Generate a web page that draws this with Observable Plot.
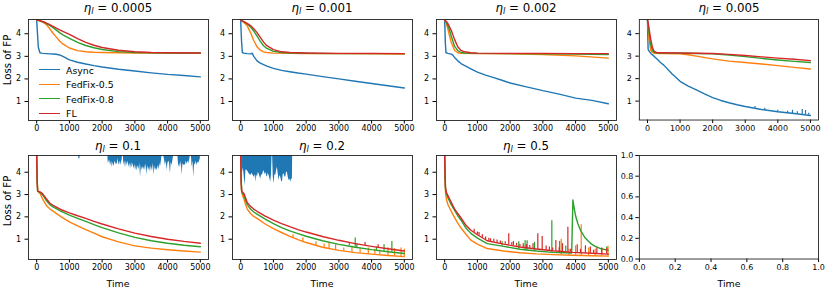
<!DOCTYPE html>
<html><head><meta charset="utf-8">
<script src="https://cdn.jsdelivr.net/npm/d3@7"></script>
<script src="https://cdn.jsdelivr.net/npm/@observablehq/plot@0.6"></script>
<style>
body{margin:0;background:#fff;font-family:"DejaVu Sans",sans-serif;}
#root{position:relative;width:830px;height:291px;overflow:hidden;background:#fff;}
.panel{position:absolute;}
.panel svg{overflow:visible;}
.title{position:absolute;width:180px;text-align:center;font-size:11.8px;line-height:13px;white-space:nowrap;color:#000;}
.title sub{font-size:0.7em;vertical-align:-0.3em;line-height:0;}
.xlab{position:absolute;width:180px;text-align:center;font-size:9.4px;line-height:11px;color:#000;}
.ylab{position:absolute;font-size:10.2px;line-height:12px;white-space:nowrap;transform:translate(-50%,-50%) rotate(-90deg);color:#000;}
.leg{position:absolute;font-size:9.4px;line-height:11px;color:#000;white-space:nowrap;}
.sw{position:absolute;height:0;border-top:1.6px solid;}
</style></head>
<body><div id="root"></div>
<script>
// ---------- data ----------
const seriesNames = ["Async", "FedFix-0.5", "FedFix-0.8", "FL"];
const colors = ["#1f77b4", "#ff7f0e", "#2ca02c", "#d62728"];
const etas = ["0.0005", "0.001", "0.002", "0.005", "0.1", "0.2", "0.5"];
const timeTicks = [0, 1000, 2000, 3000, 4000, 5000];
const lossTicks = [1, 2, 3, 4];
const unitTicks = [0, 0.2, 0.4, 0.6, 0.8, 1.0];

// eta = 0.0005
const async1 = [[0,4.6],[25,4.0],[50,3.4],[100,3.16],[150,3.14],[200,3.13],[300,3.12],[400,3.11],[500,3.1],[600,3.09],[700,3.06],[800,3.0],[1000,2.84],[1250,2.74],[1500,2.66],[1750,2.59],[2000,2.53],[2500,2.43],[3000,2.35],[3500,2.27],[4000,2.2],[4500,2.15],[5000,2.09]];
const orange1 = [[0,4.6],[100,4.57],[200,4.5],[300,4.4],[400,4.22],[500,4.02],[600,3.85],[700,3.68],[800,3.55],[1000,3.37],[1250,3.25],[1500,3.2],[1750,3.18],[2000,3.17],[2500,3.16],[3000,3.15],[4000,3.15],[5000,3.14]];
const green1 = [[0,4.6],[100,4.57],[200,4.52],[300,4.45],[400,4.37],[500,4.27],[600,4.16],[700,4.05],[800,3.95],[1000,3.8],[1250,3.62],[1500,3.48],[1750,3.38],[2000,3.3],[2500,3.21],[3000,3.17],[3500,3.16],[4000,3.15],[5000,3.15]];
const red1 = [[0,4.6],[100,4.58],[200,4.53],[300,4.47],[400,4.4],[500,4.33],[600,4.25],[700,4.17],[800,4.1],[1000,3.97],[1250,3.78],[1500,3.62],[1750,3.49],[2000,3.39],[2500,3.27],[3000,3.2],[3500,3.17],[4000,3.16],[5000,3.15]];

// eta = 0.001
const async2 = [[0,4.6],[25,3.7],[50,3.17],[100,3.14],[200,3.12],[300,3.11],[350,3.14],[400,3.0],[500,2.8],[600,2.7],[800,2.57],[1000,2.47],[1250,2.38],[1500,2.32],[1750,2.26],[2000,2.21],[2500,2.1],[3000,2.0],[3500,1.9],[4000,1.8],[4500,1.7],[5000,1.6]];
const orange2 = [[0,4.6],[100,4.5],[200,4.35],[300,4.05],[400,3.7],[500,3.42],[600,3.27],[700,3.2],[800,3.17],[1000,3.14],[1500,3.13],[2000,3.12],[3000,3.12],[4000,3.11],[5000,3.1]];
const green2 = [[0,4.6],[100,4.52],[200,4.43],[300,4.3],[400,4.12],[500,3.9],[600,3.66],[700,3.47],[800,3.35],[1000,3.22],[1250,3.17],[1500,3.15],[2000,3.13],[3000,3.12],[5000,3.12]];
const red2 = [[0,4.6],[100,4.54],[200,4.46],[300,4.36],[400,4.22],[500,4.05],[600,3.84],[700,3.63],[800,3.47],[1000,3.3],[1250,3.2],[1500,3.17],[2000,3.15],[3000,3.13],[4000,3.13],[5000,3.12]];

// eta = 0.002
const async3 = [[0,4.6],[20,3.6],[40,3.16],[100,3.13],[200,3.1],[250,3.05],[300,2.95],[400,2.8],[500,2.68],[600,2.6],[800,2.45],[1000,2.3],[1250,2.17],[1500,2.06],[1750,1.94],[2000,1.82],[2500,1.65],[3000,1.48],[3500,1.33],[4000,1.15],[4500,1.05],[5000,0.9]];
const orange3 = [[0,4.6],[50,4.45],[100,4.2],[150,3.9],[200,3.62],[300,3.27],[400,3.16],[500,3.13],[1000,3.12],[2000,3.11],[3000,3.08],[4000,3.02],[5000,2.92]];
const green3 = [[0,4.6],[50,4.5],[100,4.35],[150,4.15],[200,3.9],[300,3.45],[400,3.25],[500,3.17],[600,3.15],[1000,3.13],[2000,3.12],[3000,3.11],[4000,3.1],[5000,3.08]];
const red3 = [[0,4.6],[50,4.55],[100,4.45],[150,4.3],[200,4.15],[300,3.75],[400,3.42],[500,3.26],[600,3.2],[800,3.16],[1000,3.14],[2000,3.13],[3000,3.13],[4000,3.12],[5000,3.12]];

// eta = 0.005
const async4 = [[0,4.6],[10,3.8],[20,3.3],[50,3.22],[100,3.12],[200,3.0],[300,2.86],[400,2.72],[500,2.6],[750,2.22],[1000,1.88],[1250,1.67],[1500,1.5],[1750,1.32],[2000,1.16],[2250,1.03],[2500,0.93],[2750,0.84],[3000,0.76],[3500,0.63],[4000,0.53],[4500,0.45],[5000,0.36]];
const async4Spikes = [[3300,0.68,0.76],[3600,0.6,0.68],[4000,0.52,0.6],[4300,0.47,0.55],[4450,0.45,0.6],[4600,0.43,0.53],[4750,0.41,0.63],[4850,0.39,0.58],[4950,0.37,0.46]];
const orange4 = [[0,4.6],[25,4.2],[50,3.7],[100,3.25],[150,3.16],[200,3.13],[500,3.12],[1000,3.1],[1250,3.06],[1500,3.0],[2000,2.88],[2500,2.78],[3000,2.72],[3500,2.65],[4000,2.58],[4500,2.5],[5000,2.43]];
const green4 = [[0,4.6],[25,4.35],[50,4.0],[100,3.5],[150,3.25],[200,3.17],[300,3.14],[1000,3.13],[1500,3.12],[2000,3.1],[2500,3.05],[3000,2.98],[3500,2.9],[4000,2.83],[4500,2.77],[5000,2.72]];
const red4 = [[0,4.6],[25,4.45],[50,4.2],[100,3.75],[150,3.4],[200,3.22],[300,3.15],[1000,3.14],[1500,3.13],[2000,3.12],[2500,3.08],[3000,3.03],[3500,2.97],[4000,2.91],[4500,2.86],[5000,2.8]];

// eta = 0.1  (Async diverges: only its lower noise edge is visible)
const asyncBand5 = [[2170,5],[2186,4.4],[2230,4.55],[2257,4.3],[2290,4.5],[2308,4.22],[2340,4.45],[2359,4.25],[2400,4.5],[2430,4.35],[2461,4.38],[2490,4.6],[2512,4.3],[2540,4.5],[2562,4.3],[2610,4.55],[2640,5],[2664,4.3],[2690,4.5],[2715,4.2],[2740,4.5],[2766,4.3],[2800,4.5],[2817,4.22],[2850,4.4],[2867,4.15],[2900,4.45],[2918,4.2],[2950,4.4],[2969,4.15],[3000,4.35],[3020,4.08],[3050,4.3],[3071,4.05],[3100,4.3],[3122,4.1],[3150,4.4],[3172,3.78],[3200,4.3],[3223,4.08],[3250,4.25],[3274,4.1],[3300,4.3],[3325,4.05],[3350,4.4],[3375,3.85],[3400,4.3],[3426,4.08],[3450,4.25],[3477,4.0],[3500,4.3],[3528,4.05],[3550,4.4],[3578,3.85],[3600,4.3],[3629,4.08],[3660,4.2],[3680,4.05],[3710,4.3],[3731,4.1],[3760,4.4],[3782,4.22],[3810,4.5],[3850,5],[3900,4.6],[3934,4.3],[3960,4.5],[3985,4.08],[4010,4.4],[4036,4.5],[4060,4.4],[4087,3.93],[4110,4.45],[4138,4.3],[4170,4.6],[4200,5],[4300,5],[4341,4.22],[4370,4.4],[4392,4.2],[4420,4.5],[4443,3.85],[4470,4.4],[4493,4.3],[4520,4.35],[4544,4.3],[4570,4.5],[4595,4.35],[4620,4.5],[4646,4.38],[4680,4.6],[4720,5],[4748,4.22],[4775,4.5],[4799,3.78],[4825,4.4],[4849,4.3],[4875,4.5],[4900,4.3],[4925,4.45],[4951,4.4],[4980,4.52],[5000,4.6]];
const async5Spikes = [[1290,4.6,5]];
const orange5 = [[0,4.8],[15,3.6],[30,3.15],[100,3.05],[200,2.75],[300,2.5],[400,2.36],[500,2.26],[750,2.0],[1000,1.78],[1250,1.6],[1500,1.43],[1750,1.27],[2000,1.11],[2500,0.88],[3000,0.7],[3500,0.6],[4000,0.53],[4500,0.47],[5000,0.42]];
const green5 = [[0,4.8],[15,3.6],[30,3.15],[100,3.1],[200,2.95],[300,2.72],[400,2.55],[500,2.45],[750,2.25],[1000,2.08],[1250,1.93],[1500,1.8],[1750,1.65],[2000,1.52],[2500,1.28],[3000,1.08],[3500,0.93],[4000,0.82],[4500,0.73],[5000,0.66]];
const red5 = [[0,4.8],[15,3.6],[30,3.15],[100,3.12],[150,3.08],[200,3.0],[300,2.8],[400,2.62],[500,2.52],[750,2.32],[1000,2.18],[1250,2.05],[1500,1.93],[1750,1.8],[2000,1.68],[2500,1.46],[3000,1.27],[3500,1.12],[4000,1.0],[4500,0.9],[5000,0.82]];

// eta = 0.2
const asyncBand6 = [[0,5],[20,4.3],[51,3.93],[80,4.2],[102,3.9],[133,3.4],[160,4.1],[204,4.08],[250,3.95],[306,3.85],[350,3.95],[408,3.78],[440,3.9],[459,3.55],[485,3.9],[510,3.78],[540,4.0],[561,3.93],[590,3.8],[612,3.7],[640,3.9],[663,3.85],[690,4.0],[714,4.08],[740,3.9],[765,4.0],[790,3.85],[816,3.78],[840,3.95],[867,3.85],[895,3.7],[918,3.55],[940,3.9],[960,4.8],[975,4.8],[995,3.8],[1020,3.48],[1045,3.9],[1071,3.85],[1100,4.1],[1122,4.22],[1150,3.9],[1173,3.63],[1200,3.85],[1224,3.78],[1250,3.6],[1275,3.55],[1300,3.9],[1326,3.93],[1350,3.8],[1377,3.78],[1400,4.0],[1428,4.0],[1455,3.75],[1479,3.63],[1505,3.7],[1530,3.55],[1555,3.7],[1581,3.7],[1590,5]];
const orange6 = [[0,4.8],[15,3.6],[30,3.1],[60,2.95],[100,2.8],[150,2.55],[200,2.35],[300,2.15],[400,2.02],[500,1.93],[750,1.68],[1000,1.47],[1250,1.3],[1500,1.13],[1750,0.98],[2000,0.85],[2500,0.64],[3000,0.5],[3500,0.4],[4000,0.33],[4500,0.27],[5000,0.22]];
const orange6Spikes = [[1600,1.07,1.2],[1900,0.9,1.05],[2300,0.72,0.88],[2550,0.62,0.78],[2700,0.57,0.85],[2900,0.52,0.75],[3150,0.47,0.6],[3400,0.42,0.68],[3650,0.38,0.55],[3900,0.34,0.6],[4100,0.32,0.55],[4250,0.3,0.5],[4500,0.27,0.62],[4700,0.25,0.58],[4900,0.23,0.6],[5000,0.22,0.55]];
const green6 = [[0,4.8],[15,3.6],[30,3.15],[60,3.05],[100,2.95],[150,2.75],[200,2.55],[300,2.35],[400,2.22],[500,2.12],[750,1.9],[1000,1.7],[1250,1.52],[1500,1.37],[1750,1.25],[2000,1.13],[2500,0.93],[3000,0.77],[3500,0.64],[4000,0.53],[4500,0.44],[5000,0.36]];
const green6Spikes = [[3320,0.7,0.85],[3500,0.64,1.05],[3550,0.62,0.8],[4150,0.5,0.65],[4380,0.46,0.75],[4620,0.42,0.9]];
const red6 = [[0,4.8],[15,3.6],[30,3.15],[60,3.1],[100,3.05],[150,2.85],[200,2.65],[300,2.47],[400,2.35],[500,2.25],[750,2.03],[1000,1.85],[1250,1.7],[1500,1.56],[1750,1.43],[2000,1.32],[2500,1.12],[3000,0.95],[3500,0.8],[4000,0.68],[4500,0.57],[5000,0.47]];
const red6Spikes = [[3800,0.72,0.85],[4200,0.63,0.75]];

// eta = 0.5
const orange7 = [[0,4.8],[10,3.7],[25,3.1],[50,2.8],[100,2.55],[150,2.4],[200,2.25],[300,1.98],[400,1.72],[500,1.5],[650,1.22],[800,0.96],[1000,0.78],[1300,0.58],[1800,0.47],[2300,0.39],[2800,0.34],[3300,0.31],[3900,0.28],[4500,0.26],[5000,0.24]];
const orange7Spikes = [[3560,0.3,1.0],[3800,0.29,0.55],[4000,0.28,0.7],[4172,0.27,1.65],[4400,0.26,0.6],[4600,0.25,0.55],[4800,0.25,0.5],[4990,0.24,0.68]];
const green7 = [[0,4.8],[10,3.9],[25,3.3],[50,3.05],[100,2.85],[150,2.7],[200,2.55],[300,2.3],[400,2.05],[500,1.85],[650,1.5],[800,1.26],[1000,1.05],[1300,0.8],[1800,0.68],[2300,0.55],[2800,0.47],[3300,0.41],[3880,0.38],[3918,2.76],[3950,2.45],[4000,2.05],[4070,1.69],[4150,1.4],[4275,1.09],[4400,0.9],[4478,0.79],[4600,0.68],[4784,0.57],[5000,0.5]];
const green7Spikes = [[1754,0.7,0.89],[2264,0.56,0.89],[2458,0.52,0.93],[2519,0.51,0.93],[2745,0.48,0.86],[3274,0.41,1.83],[3510,0.4,0.9],[3700,0.39,0.7],[4950,0.5,0.65]];
const red7 = [[0,4.8],[10,4.0],[25,3.3],[50,3.1],[100,2.95],[150,2.8],[200,2.65],[300,2.36],[400,2.15],[500,1.95],[650,1.62],[800,1.4],[1000,1.2],[1300,0.93],[1800,0.78],[2300,0.65],[2800,0.56],[3300,0.48],[3900,0.41],[4500,0.37],[5000,0.33]];
const red7Spikes = [[900,1.3,1.45],[1000,1.2,1.32],[1050,1.15,1.3],[1150,1.05,1.2],[1250,0.97,1.1],[1350,0.92,1.04],[1400,0.9,1.02],[1500,0.87,1.0],[1600,0.84,0.96],[1700,0.8,0.92],[1850,0.77,0.88],[1958,0.75,1.24],[2050,0.73,0.84],[2100,0.72,0.9],[2200,0.68,0.82],[2300,0.65,0.76],[2400,0.63,0.8],[2500,0.61,0.75],[2600,0.59,0.72],[2700,0.57,0.8],[2846,0.55,1.24],[2979,0.53,1.12],[3100,0.51,0.7],[3200,0.5,0.65],[3300,0.48,0.6],[3397,0.47,0.94],[3500,0.45,0.62],[3600,0.44,0.8],[3764,0.42,1.53],[3850,0.41,0.55],[4050,0.4,0.75],[4150,0.39,0.55],[4300,0.38,0.7],[4450,0.37,0.65],[4550,0.37,0.5],[4650,0.36,0.62],[4800,0.35,0.6],[4950,0.33,0.58]];

// ---------- layout ----------
const root = document.getElementById("root");
const W = 180;
const colLeft = [28, 232, 436, 639];
const rowTop = [19, 155];
const rowH = [101, 104];
const yDom = [[0.16, 4.63], [0.09, 4.75]];
const ML = 34, MR = 12, MT = 4, MB = 18;

const lineOpts = (c) => ({x: d => d[0], y: d => d[1], stroke: c, strokeWidth: 1.4, clip: true});
const spikeOpts = (c) => ({x: d => d[0], y1: d => d[1], y2: d => d[2], stroke: c, strokeWidth: 1.2, clip: true});
const bandOpts = (c) => ({x: d => d[0], y1: d => d[1], y2: () => 5, fill: c, clip: true});

const panels = [
  {eta: etas[0], lines: [async1, orange1, green1, red1]},
  {eta: etas[1], lines: [async2, orange2, green2, red2]},
  {eta: etas[2], lines: [async3, orange3, green3, red3]},
  {eta: etas[3], lines: [async4, orange4, green4, red4], spikes: [async4Spikes, null, null, null]},
  {eta: etas[4], band: asyncBand5, lines: [null, orange5, green5, red5], spikes: [async5Spikes, null, null, null]},
  {eta: etas[5], band: asyncBand6, lines: [null, orange6, green6, red6], spikes: [null, orange6Spikes, green6Spikes, red6Spikes]},
  {eta: etas[6], lines: [null, orange7, green7, red7], spikes: [null, orange7Spikes, green7Spikes, red7Spikes]},
  {empty: true}
];

function place(el, left, top) {
  el.style.left = left + "px"; el.style.top = top + "px"; root.appendChild(el);
}

panels.forEach((p, i) => {
  const r = Math.floor(i / 4), c = i % 4;
  const H = rowH[r];
  const marks = [];
  if (!p.empty) {
    if (p.band) marks.push(Plot.areaY(p.band, bandOpts(colors[0])));
    p.lines.forEach((s, k) => {
      if (s) marks.push(Plot.line(s, lineOpts(colors[k])));
      if (p.spikes && p.spikes[k]) marks.push(Plot.ruleX(p.spikes[k], spikeOpts(colors[k])));
    });
  }
  marks.push(Plot.frame({stroke: "#222", strokeWidth: 0.9}));
  const chart = Plot.plot({
    width: ML + W + MR,
    height: MT + H + MB,
    marginLeft: ML, marginRight: MR, marginTop: MT, marginBottom: MB,
    style: {fontSize: "8px", fontFamily: "DejaVu Sans", color: "#000", background: "transparent", overflow: "visible"},
    x: p.empty
      ? {domain: [0, 1], ticks: unitTicks, tickFormat: d3.format(".1f"), tickSize: 3.5, tickPadding: 1.5, label: null}
      : {domain: [-250, 5250], ticks: timeTicks, tickFormat: d3.format("d"), tickSize: 3.5, tickPadding: 1.5, label: null},
    y: p.empty
      ? {domain: [0, 1], ticks: unitTicks, tickFormat: d3.format(".1f"), tickSize: 3.5, tickPadding: 2.5, label: null}
      : {domain: yDom[r], ticks: lossTicks, tickFormat: d3.format("d"), tickSize: 3.5, tickPadding: 4, label: null},
    marks
  });
  const wrap = document.createElement("div");
  wrap.className = "panel";
  wrap.appendChild(chart);
  place(wrap, colLeft[c] - ML, rowTop[r] - MT);

  if (!p.empty) {
    const t = document.createElement("div");
    t.className = "title";
    t.innerHTML = '<i>η</i><sub><i>l</i></sub> = ' + p.eta;
    place(t, colLeft[c], r === 0 ? 1.5 : 140);
  }
  if (r === 1) {
    const xl = document.createElement("div");
    xl.className = "xlab"; xl.textContent = "Time";
    place(xl, colLeft[c], 277.5);
  }
  if (c === 0) {
    const yl = document.createElement("div");
    yl.className = "ylab"; yl.textContent = "Loss of FP";
    place(yl, 7.5, r === 0 ? 60 : 201);
  }
});

// legend inside first panel
const legY = [70, 84.5, 99, 113.5];
seriesNames.forEach((name, k) => {
  const sw = document.createElement("div");
  sw.className = "sw"; sw.style.width = "21px"; sw.style.borderTopColor = colors[k];
  place(sw, 39, legY[k] - 0.8);
  const lb = document.createElement("div");
  lb.className = "leg"; lb.textContent = name;
  place(lb, 66, legY[k] - 5.5);
});
</script>
</body></html>
